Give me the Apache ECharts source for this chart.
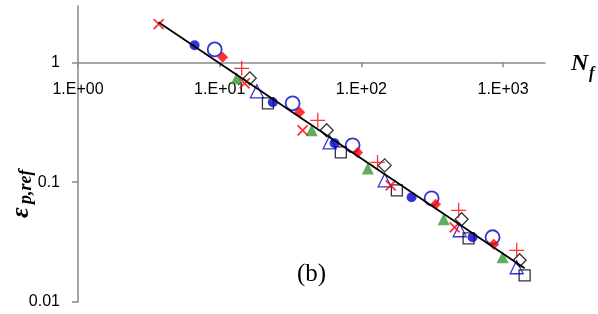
<!DOCTYPE html>
<html><head><meta charset="utf-8">
<script src="https://cdn.jsdelivr.net/npm/echarts@6/dist/echarts.min.js"></script>
<style>html,body{margin:0;padding:0;background:#fff}#c{width:598px;height:314px}</style>
</head><body><div id="c"></div>
<script>
// tick values and labels
var xTickValues = [1, 10, 100, 1000];
var xTickLabels = ['1.E+00', '1.E+01', '1.E+02', '1.E+03'];
var yTickValues = [0.01, 0.1, 1];
var yTickLabels = ['0.01', '0.1', '1'];

// series values [Nf, eps]
var redCross    = [[3.71, 2.08], [15.0, 0.668], [38.5, 0.271], [161, 0.094], [455, 0.042]];
var blueDot     = [[6.65, 1.39], [23.7, 0.464], [64.7, 0.211], [226, 0.0748], [609, 0.0347]];
var blueRing    = [[9.22, 1.28], [32.7, 0.455], [86.7, 0.203], [313, 0.0733], [843, 0.0347]];
var redDiamond  = [[10.5, 1.10], [36.7, 0.383], [94, 0.177], [334, 0.0654], [859, 0.0303]];
var redPlus     = [[14.3, 0.891], [49.2, 0.328], [130, 0.146], [486, 0.0582], [1247, 0.027]];
var greenTri    = [[13.2, 0.735], [44.6, 0.271], [111, 0.130], [381, 0.049], [993, 0.0236]];
var blackDiam   = [[16.3, 0.735], [56.9, 0.271], [146, 0.138], [510, 0.049], [1309, 0.0223]];
var blueTri     = [[18.3, 0.573], [59.7, 0.215], [146, 0.1036], [494, 0.0397], [1247, 0.0195]];
var blackSquare = [[21.9, 0.455], [71.6, 0.177], [178, 0.0855], [571, 0.034], [1419, 0.0167]];
var fitLine     = [[3.7, 2.16], [1420, 0.0191]];

var RED = '#ff0000', BLUE = '#0000cc', GREEN = '#339933', BLACK = '#000000';
var X_MAX = 1976, Y_MIN = 0.01, Y_MAX = 2.95;
function sc(name, data, symbol, size, fill, stroke, bw) {
  return { name: name, type: 'scatter', data: data, symbol: symbol, symbolSize: size,
    xAxisIndex: 0, yAxisIndex: 0,
    itemStyle: { color: fill, borderColor: stroke, borderWidth: bw }, z: 3 };
}
var chart = echarts.init(document.getElementById('c'), null, { renderer: 'canvas' });
var axisColor = '#898989';
chart.setOption({
  animation: false,
  backgroundColor: '#ffffff',
  grid: [
    { left: 78, right: 53, top: 6, bottom: 12 },
    // upper band ending at eps = 1, where the Nf axis crosses
    { left: 78, right: 53, top: 6, height: 56.3 }
  ],
  xAxis: [
    { gridIndex: 0, type: 'log', min: 1, max: X_MAX, logBase: 10, show: true,
      axisLine: { show: false }, axisTick: { show: false }, axisLabel: { show: false },
      splitLine: { show: false } },
    { gridIndex: 1, type: 'log', min: 1, max: X_MAX, logBase: 10, position: 'bottom',
      axisLine: { show: true, lineStyle: { color: axisColor, width: 1.5 } },
      axisTick: { show: true, length: 5, customValues: xTickValues, lineStyle: { color: axisColor, width: 1.5 } },
      axisLabel: { customValues: xTickValues, margin: 19, color: '#000', fontFamily: 'Liberation Sans', fontSize: 16,
        formatter: function (v) { var i = xTickValues.indexOf(v); return i >= 0 ? xTickLabels[i] : ''; } },
      splitLine: { show: false }, minorTick: { show: false } }
  ],
  yAxis: [
    { gridIndex: 0, type: 'log', min: Y_MIN, max: Y_MAX, logBase: 10,
      axisLine: { show: true, lineStyle: { color: axisColor, width: 1.5 } },
      axisTick: { show: true, length: 6, customValues: yTickValues, lineStyle: { color: axisColor, width: 1.5 } },
      axisLabel: { customValues: yTickValues, margin: 18, color: '#000', fontFamily: 'Liberation Sans', fontSize: 16,
        formatter: function (v) { for (var i = 0; i < yTickValues.length; i++) { if (Math.abs(v - yTickValues[i]) < 1e-9) return yTickLabels[i]; } return ''; } },
      splitLine: { show: false }, minorTick: { show: false } },
    { gridIndex: 1, type: 'log', min: 1, max: Y_MAX, logBase: 10, show: false }
  ],
  series: [
    sc('square', blackSquare, 'rect', 11, 'transparent', BLACK, 1.3),
    sc('openTri', blueTri, 'triangle', 13, 'transparent', BLUE, 1.3),
    sc('openDiamond', blackDiam, 'diamond', 13, 'transparent', BLACK, 1.3),
    sc('greenTri', greenTri, 'triangle', 12, GREEN, GREEN, 0),
    sc('plus', redPlus, 'path://M5,0L5,10M0,5L10,5', 15, 'transparent', RED, 1.3),
    sc('ring', blueRing, 'circle', 14, 'transparent', BLUE, 1.8),
    sc('diamond', redDiamond, 'diamond', 11, RED, RED, 0),
    sc('dot', blueDot, 'circle', 10, BLUE, BLUE, 0),
    sc('cross', redCross, 'path://M0,0L10,10M10,0L0,10', 10, 'transparent', RED, 1.8),
    { name: 'fit', type: 'line', data: fitLine, xAxisIndex: 0, yAxisIndex: 0, showSymbol: false, symbol: 'none', z: 5,
      lineStyle: { color: BLACK, width: 1.8 } }
  ],
  graphic: [
    { type: 'text', left: 571, top: 52, style: { text: 'N', fontFamily: 'Liberation Serif', fontStyle: 'italic', fontWeight: 'bold', fontSize: 24, fill: '#000' } },
    { type: 'text', left: 589, top: 66, style: { text: 'f', fontFamily: 'Liberation Serif', fontStyle: 'italic', fontWeight: 'bold', fontSize: 16, fill: '#000' } },
    { type: 'group', x: 8, y: 218, rotation: Math.PI / 2, children: [
      { type: 'text', x: 0, y: 0, style: { text: 'ε', fontFamily: 'Liberation Serif', fontStyle: 'italic', fontWeight: 'bold', fontSize: 26, fill: '#000' } },
      { type: 'text', x: 14, y: 9, style: { text: 'p,ref', fontFamily: 'Liberation Serif', fontStyle: 'italic', fontWeight: 'bold', fontSize: 18, fill: '#000' } }
    ] },
    { type: 'text', left: 297, top: 262, style: { text: '(b)', fontFamily: 'Liberation Serif', fontSize: 25, fill: '#000' } }
  ]
});
</script></body></html>
